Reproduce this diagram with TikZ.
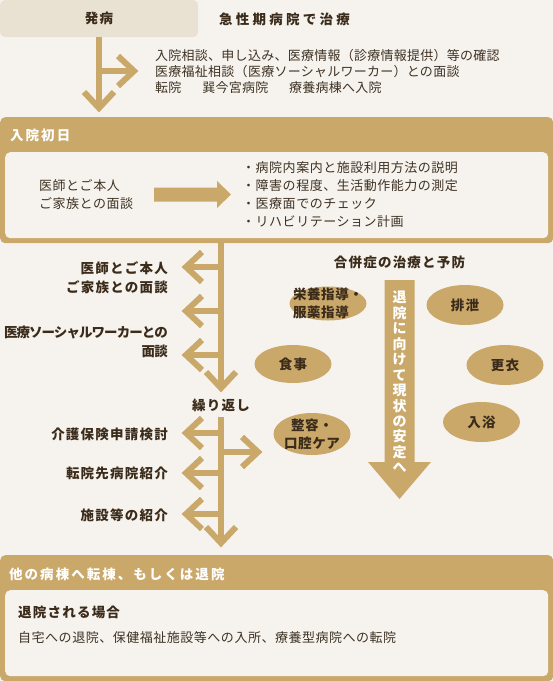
\documentclass[tikz,border=0pt]{standalone}
\usepackage{fontspec}
\setmainfont{Noto Sans CJK JP}
\usetikzlibrary{shapes.geometric,calc}
\definecolor{bg}{HTML}{F6F3EE}
\definecolor{gold}{HTML}{C9A86A}
\definecolor{pale}{HTML}{E9E1D2}
\definecolor{ink}{HTML}{3B2B1A}
\definecolor{inkn}{HTML}{3E3224}
\tikzset{
  base/.style={inner sep=0, text=ink},
  tx/.style={base, text=inkn, font=\fontsize{13}{16.5}\selectfont\addfontfeature{LetterSpace=4}},
  btx/.style={base, font=\fontsize{13.5}{19}\selectfont\bfseries\addfontfeature{LetterSpace=9}},
  htx/.style={base, text=white, font=\fontsize{13.5}{16}\selectfont\bfseries\addfontfeature{LetterSpace=15}},
  vtx/.style={base, text=white, align=center, font=\fontsize{14}{15.45}\selectfont\bfseries},
  gl/.style={draw=gold, line width=6pt},
  goldbox/.style={fill=gold, rounded corners=5pt, inner sep=0, anchor=north west},
  paper/.style={fill=bg, rounded corners=5pt, inner sep=0, anchor=north west},
  blob/.style={ellipse, fill=gold, minimum width=77pt, minimum height=40pt, inner sep=0},
  chev/.pic={\draw[gl] (-16,15) -- (0,0) -- (-16,-15);},
}
\begin{document}
\begin{tikzpicture}[x=1pt,y=-1pt]
\useasboundingbox (0,0) rectangle (553,681);
\fill[bg] (0,0) rectangle (553,681);

% ---------- onset ----------
\node[fill=pale, rounded corners=5pt, minimum width=198pt, minimum height=37pt, inner sep=0,
      btx] (hb) at (99,18.5) {発病};
\node[btx, anchor=west, font=\fontsize{13.5}{16}\selectfont\bfseries\addfontfeature{LetterSpace=24}] (acute) at (219,19) {急性期病院で治療};
\node[tx, anchor=west, align=left, font=\fontsize{13}{16}\selectfont\addfontfeature{LetterSpace=2}] (t1) at (155,71)
  {入院相談、申し込み、医療情報（診療情報提供）等の確認\\医療福祉相談（医療ソーシャルワーカー）との面談\\転院\hspace{1.6em}巽今宮病院\hspace{1.6em}療養病棟へ入院};
\coordinate (d1) at (99,108);
\coordinate (j1) at (99,71);
\coordinate (r1) at (134,71);
\draw[gl] (hb.south -| d1) -- (d1);
\draw[gl] (j1) -- (r1);
\pic[rotate=-90] at (d1) {chev};
\pic at (r1) {chev};

% ---------- first day ----------
\node[goldbox, minimum width=553pt, minimum height=126pt] (s1) at (0,117) {};
\node[paper, minimum width=543pt, minimum height=86pt] (s1in) at (5,152) {};
\node[htx, anchor=west] (s1h) at (10,135) {入院初日};
\node[tx, anchor=west, align=left, font=\fontsize{13}{17.5}\selectfont\addfontfeature{LetterSpace=4}] (s1a) at (39,194.5) {医師とご本人\\ご家族との面談};
\node[tx, anchor=west, align=left, font=\fontsize{13}{17.7}\selectfont\addfontfeature{LetterSpace=4}] (s1b) at (242,194.5)
  {・病院内案内と施設利用方法の説明\\・障害の程度、生活動作能力の測定\\・医療面でのチェック\\・リハビリテーション計画};
\coordinate (ba0) at (154,194.5);
\coordinate (ba1) at (231,194.5);
\fill[gold] ($(ba0)+(0,-7)$) -- ($(ba1)+(-14,-7)$) -- ($(ba1)+(-14,-13.5)$) -- (ba1)
  -- ($(ba1)+(-14,13.5)$) -- ($(ba1)+(-14,7)$) -- ($(ba0)+(0,7)$) -- cycle;

% ---------- stem 2 ----------
\coordinate (m0) at (221,243);
\coordinate (md) at (221,388);
\draw[gl] (s1.south -| m0) -- (md);
\pic[rotate=-90] at (md) {chev};
\foreach \y/\n in {267/a,311/b,355/c}{
  \coordinate (jL\n) at (221,\y);
  \coordinate (tL\n) at (186,\y);
  \draw[gl] (jL\n) -- (tL\n);
  \pic[rotate=180] at (tL\n) {chev};
}
\node[btx, anchor=east, align=right] (L1) at (168,277.5) {医師とご本人\\ご家族との面談};
\node[btx, anchor=east, align=right, font=\fontsize{13.5}{19}\selectfont\bfseries\addfontfeature{LetterSpace=-7}] (L2) at (168,341.5) {医療ソーシャルワーカーとの\\面談};
\node[btx] (rep) at (221,405) {繰り返し};

% ---------- stem 3 ----------
\coordinate (n0) at (221,417);
\coordinate (nd) at (221,543);
\draw[gl] (n0) -- (nd);
\pic[rotate=-90] at (nd) {chev};
\foreach \y/\n in {433/a,473/b,514/c}{
  \coordinate (kL\n) at (221,\y);
  \coordinate (uL\n) at (186,\y);
  \draw[gl] (kL\n) -- (uL\n);
  \pic[rotate=180] at (uL\n) {chev};
}
\coordinate (kR) at (221,452);
\coordinate (uR) at (258,452);
\draw[gl] (kR) -- (uR);
\pic at (uR) {chev};
\node[btx, anchor=east] (L3) at (168,434) {介護保険申請検討};
\node[btx, anchor=east] (L4) at (168,473) {転院先病院紹介};
\node[btx, anchor=east] (L5) at (168,515) {施設等の紹介};

% ---------- complications ----------
\node[btx] (cx) at (399.5,262) {合併症の治療と予防};
\fill[gold] (384.5,280) -- (414.5,280) -- (414.5,462) -- (431,462) -- (399.5,499)
  -- (368,462) -- (384.5,462) -- cycle;
\node[vtx] (ban) at (399.5,382) {退\\院\\に\\向\\け\\て\\現\\状\\の\\安\\定\\へ};

\node[blob, minimum height=34pt] (e1) at (328,303.5) {};
\node[btx, align=left, font=\fontsize{13.5}{18}\selectfont\bfseries\addfontfeature{LetterSpace=4}] (e1t) at (e1) {栄養指導・\\服薬指導};
\node[blob] (e2) at (465,305) {};
\node[btx] (e2t) at (e2) {排泄};
\node[blob, minimum height=38pt] (e3) at (293,364) {};
\node[btx] (e3t) at (e3) {食事};
\node[blob] (e4) at (505,365) {};
\node[btx] (e4t) at (e4) {更衣};
\node[blob] (e5) at (481.5,422) {};
\node[btx] (e5t) at (e5) {入浴};
\node[blob, minimum height=42pt] (e6) at (312,434) {};
\node[btx, align=center, font=\fontsize{13.5}{18}\selectfont\bfseries\addfontfeature{LetterSpace=4}] (e6t) at (e6) {整容・\\口腔ケア};

% ---------- discharge ----------
\node[goldbox, minimum width=553pt, minimum height=126pt] (s2) at (0,555) {};
\node[paper, minimum width=543pt, minimum height=86pt] (s2in) at (5,590) {};
\node[htx, anchor=west] (s2h) at (9,574) {他の病棟へ転棟、もしくは退院};
\node[btx, anchor=west] (s2a) at (18,612) {退院される場合};
\node[tx, anchor=west] (s2b) at (18,638) {自宅への退院、保健福祉施設等への入所、療養型病院への転院};
\end{tikzpicture}
\end{document}
